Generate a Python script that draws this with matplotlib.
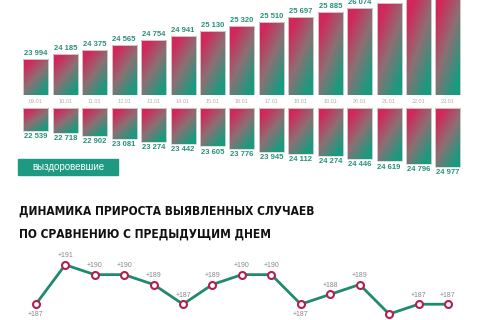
import numpy as np
import matplotlib.pyplot as plt
from matplotlib.colors import LinearSegmentedColormap
from matplotlib.patches import Rectangle

dates = ['09.01', '10.01', '11.01', '12.01', '13.01', '14.01', '15.01', '16.01',
         '17.01', '18.01', '19.01', '20.01', '21.01', '22.01', '23.01']
cases = [23994, 24185, 24375, 24565, 24754, 24941, 25130, 25320,
         25510, 25697, 25885, 26074, 26260, 26447, 26634]
recovered = [22539, 22718, 22902, 23081, 23274, 23442, 23605, 23776,
             23945, 24112, 24274, 24446, 24619, 24796, 24977]
growth = [187, 191, 190, 190, 189, 187, 189, 190, 190, 187, 188, 189, 186, 187, 187]
below = [0, 9, 12]

W, H = 480, 320
grad = LinearSegmentedColormap.from_list('g', ['#d2275a', '#8c7073', '#1b9a80'])


def box(l, t, r, b):
    return [l / W, 1 - b / H, (r - l) / W, (b - t) / H]


def gradient_bars(ax, bars):
    # row 0 = top of bar on screen
    u = np.linspace(0, 1, 40)
    v = np.linspace(0, 1, 80)
    U, V = np.meshgrid(u, v)
    img = np.clip(0.6 * U + 0.8 * V - 0.2, 0, 1)
    inv = ax.yaxis_inverted()
    for b in bars:
        x0, y0 = b.get_x(), b.get_y()
        x1, y1 = x0 + b.get_width(), y0 + b.get_height()
        ext = (x0, x1, y1, y0) if inv else (x0, x1, y0, y1)
        im = ax.imshow(img, cmap=grad, extent=ext, origin='upper', aspect='auto',
                       vmin=0, vmax=1, zorder=2, interpolation='bilinear')
        im.set_clip_path(b)


fig = plt.figure(figsize=(4.8, 3.2), dpi=100)
plt.rcParams['font.family'] = ['Liberation Sans', 'DejaVu Sans']
x = np.arange(len(dates))

# confirmed cases (top)
ax1 = fig.add_axes(box(21.1, 0, 462.7, 95))
base1 = 22534
top1 = base1 + 95 / 0.02465
bars1 = ax1.bar(x, np.array(cases) - base1, bottom=base1, width=0.85, color='none',
                edgecolor='#d9d9d9', lw=0.6, zorder=3)
gradient_bars(ax1, bars1)
for xi, v in zip(x, cases):
    if v < top1 - 100:
        ax1.annotate(f'{v:,}'.replace(',', ' '), (xi, v), xytext=(0, 1.5), textcoords='offset points',
                     ha='center', va='bottom', fontsize=5.5, fontweight='bold', color='#2a8f7b')
ax1.set_xlim(-0.5, 14.5)
ax1.set_ylim(base1, top1)
ax1.set_xticks(x)
ax1.set_xticklabels(dates, fontsize=4, color='#b0b0b0')
ax1.tick_params(length=0, pad=3)
ax1.set_yticks([])
for s in ax1.spines.values():
    s.set_visible(False)

# recovered (bottom, hanging)
ax2 = fig.add_axes(box(21.1, 108, 462.7, 180))
base2 = 21005
bars2 = ax2.bar(x, np.array(recovered) - base2, bottom=base2, width=0.85, color='none',
                edgecolor='#d9d9d9', lw=0.6, zorder=3)
ax2.set_ylim(base2 + 72 / 0.0148, base2)
gradient_bars(ax2, bars2)
for xi, v in zip(x, recovered):
    ax2.annotate(f'{v:,}'.replace(',', ' '), (xi, v), xytext=(0, -1.5), textcoords='offset points',
                 ha='center', va='top', fontsize=5.5, fontweight='bold', color='#2a8f7b')
ax2.set_xlim(-0.5, 14.5)
ax2.set_ylim(base2 + 72 / 0.0148, base2)
ax2.axis('off')

fig.patches.append(Rectangle((18 / W, 1 - 175 / H), 100 / W, 16 / H, transform=fig.transFigure,
                             color='#1f9a82', zorder=3))
fig.text(68 / W, 1 - 167 / H, 'выздоровевшие', ha='center', va='center', fontsize=7,
         color='white', zorder=4)

tfont = dict(fontsize=8.6, fontweight='bold', fontstretch='condensed',
             family=['DejaVu Sans'], va='center', color='#111111')
fig.text(19 / W, 1 - 211 / H, 'ДИНАМИКА ПРИРОСТА ВЫЯВЛЕННЫХ СЛУЧАЕВ', **tfont)
fig.text(19 / W, 1 - 234.5 / H, 'ПО СРАВНЕНИЮ С ПРЕДЫДУЩИМ ДНЕМ', **tfont)

# growth line
ax3 = fig.add_axes(box(21.1, 250, 462.7, 320))
ax3.plot(x, growth, color='#1f8a70', lw=2, marker='o', ms=5, mfc='white', mec='#b3204f', mew=1.5,
         zorder=3, clip_on=False)
for i, v in enumerate(growth):
    if i in below:
        ax3.annotate(f'+{v}', (i, v), xytext=(0, -5), textcoords='offset points', ha='center',
                     va='top', fontsize=5, color='#888888')
    else:
        ax3.annotate(f'+{v}', (i, v), xytext=(0, 4), textcoords='offset points', ha='center',
                     va='bottom', fontsize=5, color='#888888')
ax3.set_xlim(-0.5, 14.5)
ax3.set_ylim(185.4, 192.5)
ax3.axis('off')

fig.savefig('out.png', dpi=100)
